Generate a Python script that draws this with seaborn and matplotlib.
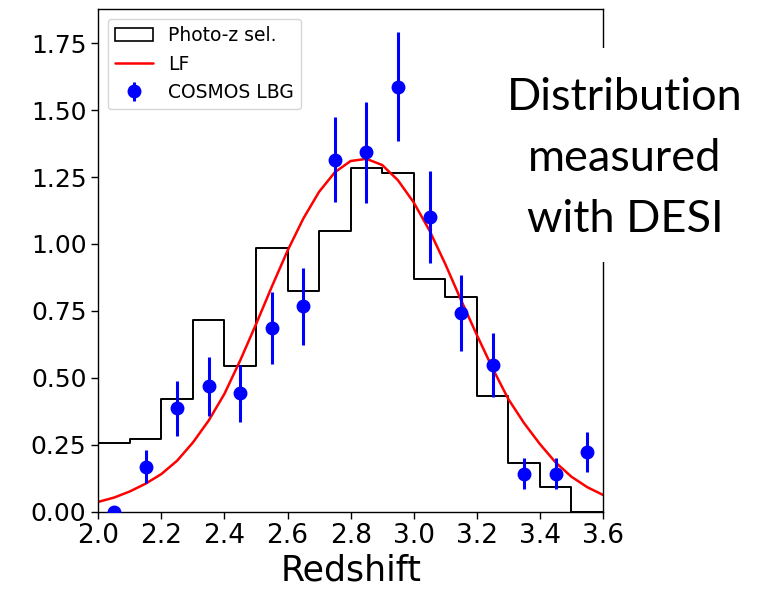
import numpy as np
import pandas as pd
import matplotlib
matplotlib.use("Agg")
import matplotlib.pyplot as plt
from matplotlib.patches import Patch, Rectangle
from matplotlib.lines import Line2D
import seaborn as sns

# ---------------- data ----------------
bin_edges = [2.0, 2.1, 2.2, 2.3, 2.4, 2.5, 2.6, 2.7, 2.8, 2.9, 3.0, 3.1, 3.2, 3.3, 3.4, 3.5, 3.6]
photoz_heights = [0.255, 0.270, 0.420, 0.715, 0.545, 0.985, 0.825, 1.050, 1.285,
                  1.265, 0.870, 0.800, 0.430, 0.180, 0.090, 0.0]

lbg_z = [2.05, 2.15, 2.25, 2.35, 2.45, 2.55, 2.65, 2.75, 2.85, 2.95, 3.05, 3.15, 3.25, 3.35, 3.45, 3.55]
lbg_val = [0.0, 0.168, 0.386, 0.468, 0.442, 0.686, 0.767, 1.315, 1.342, 1.588, 1.099,
           0.742, 0.548, 0.142, 0.142, 0.223]
lbg_err = [0.0, 0.063, 0.102, 0.111, 0.107, 0.136, 0.144, 0.158, 0.190, 0.205, 0.172,
           0.142, 0.120, 0.058, 0.058, 0.075]

lf_z = [2.00, 2.05, 2.10, 2.15, 2.20, 2.25, 2.30, 2.35, 2.40, 2.45, 2.50, 2.55, 2.60,
        2.65, 2.70, 2.75, 2.80, 2.85, 2.90, 2.95, 3.00, 3.05, 3.10, 3.15, 3.20, 3.25,
        3.30, 3.35, 3.40, 3.45, 3.50, 3.55, 3.60]
lf_val = [0.036, 0.052, 0.075, 0.104, 0.140, 0.190, 0.258, 0.340, 0.440, 0.565, 0.700,
          0.840, 0.975, 1.095, 1.195, 1.268, 1.310, 1.318, 1.295, 1.238, 1.155, 1.050,
          0.925, 0.790, 0.660, 0.535, 0.420, 0.330, 0.252, 0.183, 0.130, 0.091, 0.062]

xticks = [2.0, 2.2, 2.4, 2.6, 2.8, 3.0, 3.2, 3.4, 3.6]
yticks = [0.0, 0.25, 0.5, 0.75, 1.0, 1.25, 1.5, 1.75]
note_lines = ["Distribution", "measured", "with DESI"]

# ---------------- style ----------------
sns.set_style("ticks")
plt.rcParams.update({
    "font.family": ["DejaVu Sans"],
    "axes.edgecolor": "black",
    "axes.labelcolor": "black",
    "text.color": "black",
    "xtick.color": "black",
    "ytick.color": "black",
    "axes.linewidth": 1.0,
})

W, H = 771, 591
fig = plt.figure(figsize=(W / 100, H / 100), dpi=100)
ax = fig.add_axes([98.3 / W, (H - 511.5) / H, (603 - 98.3) / W, (511.5 - 9.3) / H])

centers = [(a + b) / 2 for a, b in zip(bin_edges[:-1], bin_edges[1:])]
hist_df = pd.DataFrame({"z": centers, "w": photoz_heights})
sns.histplot(data=hist_df, x="z", weights="w", bins=bin_edges, element="step",
             fill=False, color="black", linewidth=1.4, ax=ax)

lf_df = pd.DataFrame({"z": lf_z, "v": lf_val})
sns.lineplot(data=lf_df, x="z", y="v", color="red", linewidth=1.8, ax=ax)
for ln in ax.lines:
    ln.set_solid_joinstyle("round")

eb = ax.errorbar(lbg_z, lbg_val, yerr=lbg_err, fmt="o", color="blue", ms=9,
                 elinewidth=2.2, capsize=0, zorder=3)

ax.set_xlim(2.0, 3.6)
ax.set_ylim(0, 1.877)
ax.set_xticks(xticks)
ax.set_xticklabels([f"{t:.1f}" for t in xticks], fontsize=19)
ax.set_yticks(yticks)
ax.set_yticklabels([f"{t:.2f}" for t in yticks], fontsize=18)
ax.tick_params(length=5, width=1.0)
ax.set_xlabel("Redshift", fontsize=25, labelpad=3)
ax.set_ylabel("")

handles = [Patch(facecolor="none", edgecolor="black", linewidth=1.2),
           Line2D([], [], color="red", linewidth=1.8),
           eb]
ax.legend(handles, ["Photo-z sel.", "LF", "COSMOS LBG"], loc="upper left",
          fontsize=13.5, frameon=True, framealpha=0.8, edgecolor="#cccccc",
          borderaxespad=0.5)

# white box hiding the right spine behind the annotation
fig.patches.append(Rectangle((490 / W, 1 - 262 / H), 281 / W, 214 / H,
                             transform=fig.transFigure, facecolor="white",
                             edgecolor="none", zorder=5))
for line, yb in zip(note_lines, [110, 171, 232]):
    fig.text(625 / W, 1 - yb / H, line, ha="center", va="baseline",
             fontsize=32.5, family=["Lato", "DejaVu Sans"], zorder=6)

fig.savefig("out.png", dpi=100)
